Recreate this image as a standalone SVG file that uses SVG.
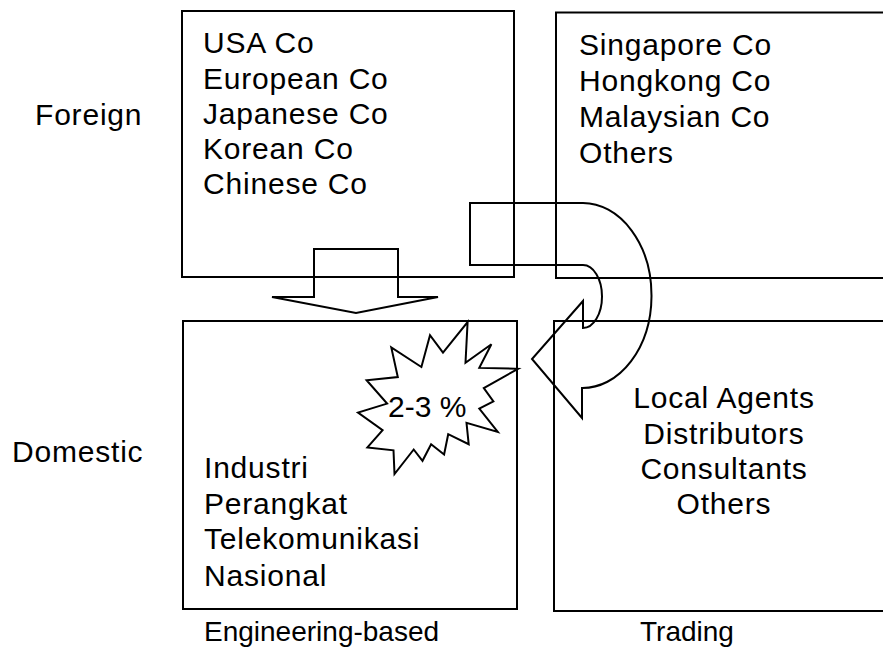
<svg xmlns="http://www.w3.org/2000/svg" width="883" height="661" viewBox="0 0 883 661">
<style>
.box{fill:none;stroke:#000;stroke-width:2}
.arr{fill:none;stroke:#000;stroke-width:2;stroke-linejoin:miter}
text{font-family:"Liberation Sans",Arial,sans-serif;font-size:30px;letter-spacing:0.8px;fill:#000}
.c{text-anchor:middle}
.s{font-size:28px;letter-spacing:0}
</style>
<rect width="883" height="661" fill="#fff"/>
<g id="foreign-box">
<rect class="box" x="182" y="11" width="332" height="266"/>
<text x="203" y="53">USA Co</text>
<text x="203" y="88.5">European Co</text>
<text x="203" y="124">Japanese Co</text>
<text x="203" y="159">Korean Co</text>
<text x="203" y="194">Chinese Co</text>
</g>
<g id="regional-box">
<rect class="box" x="556" y="12.5" width="340" height="265.5"/>
<text x="579" y="54.5">Singapore Co</text>
<text x="579" y="90.5">Hongkong Co</text>
<text x="579" y="127">Malaysian Co</text>
<text x="579" y="163">Others</text>
</g>
<g id="domestic-box">
<rect class="box" x="183" y="321" width="334" height="288"/>
<text x="204" y="478">Industri</text>
<text x="204" y="514">Perangkat</text>
<text x="204" y="549">Telekomunikasi</text>
<text x="204" y="586">Nasional</text>
</g>
<g id="trading-box">
<rect class="box" x="554" y="321" width="340" height="290"/>
<text class="c" x="724" y="408">Local Agents</text>
<text class="c" x="724" y="444">Distributors</text>
<text class="c" x="724" y="479">Consultants</text>
<text class="c" x="724" y="514">Others</text>
</g>
<g id="labels">
<text x="35" y="125">Foreign</text>
<text x="12" y="462">Domestic</text>
<text class="s" x="204" y="641">Engineering-based</text>
<text class="s" x="640" y="641">Trading</text>
</g>
<g id="connectors">
<polygon class="arr" points="314,249 398,249 398,297 438,297 356,313 272,297 314,297"/>
<path class="arr" d="M470 203 L583 203 A69 92.5 0 0 1 582 388 L582 418 L532 359 L583 301 L583 328 A19 31.5 0 0 0 583 265 L470 265 Z"/>
</g>
<g id="burst">
<polygon class="arr" points="443,352.6 430,335.2 421.4,367 391.3,347.5 397.8,377 366.6,380.2 387.1,403.6 358,412.6 382.6,430.2 367.4,447.4 393.5,450.3 394.5,474 413.7,449.5 422.5,460.8 431.1,444.2 444.1,454.5 448.2,434.2 468.7,444.2 466.5,422.9 497.8,432 479.3,408.6 493.4,401.5 483.8,388.1 518,368.8 479.3,367.9 491.4,344.3 465.5,362.7 467.6,322"/>
<text x="388" y="416.5" style="letter-spacing:0">2-3 %</text>
</g>
</svg>
